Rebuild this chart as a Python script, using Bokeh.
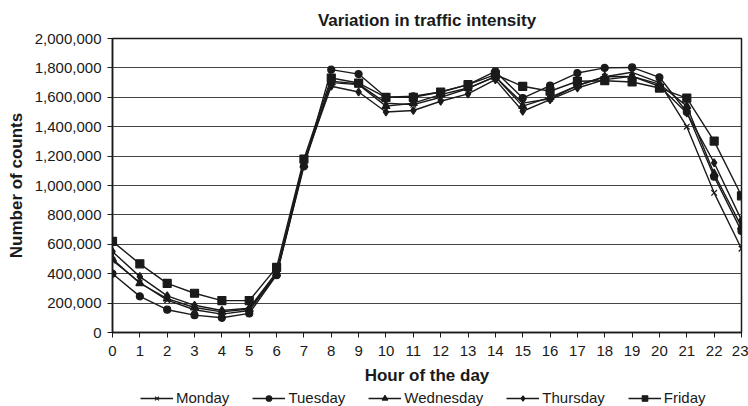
from bokeh.plotting import figure
from bokeh.layouts import column
from bokeh.models import (ColumnDataSource, Legend, LegendItem, NumeralTickFormatter,
                          FixedTicker, Range1d)
from bokeh.embed import file_html
from bokeh.resources import INLINE

# Hourly traffic counts per weekday
hours = list(range(24))
monday = [490000, 340000, 220000, 155000, 125000, 150000, 395000, 1150000,
          1710000, 1690000, 1560000, 1550000, 1600000, 1660000, 1740000, 1560000,
          1590000, 1680000, 1740000, 1770000, 1700000, 1400000, 950000, 570000]
tuesday = [400000, 246000, 155000, 118000, 100000, 130000, 390000, 1130000,
           1788000, 1758000, 1600000, 1607000, 1636000, 1686000, 1776000, 1595000,
           1680000, 1765000, 1800000, 1803000, 1736000, 1500000, 1060000, 690000]
wednesday = [500000, 335000, 230000, 170000, 140000, 160000, 400000, 1140000,
             1700000, 1686000, 1540000, 1560000, 1618000, 1663000, 1740000, 1540000,
             1600000, 1680000, 1740000, 1742000, 1690000, 1540000, 1080000, 720000]
thursday = [550000, 380000, 249000, 185000, 150000, 165000, 410000, 1160000,
            1675000, 1636000, 1500000, 1510000, 1573000, 1623000, 1720000, 1505000,
            1584000, 1663000, 1720000, 1742000, 1675000, 1494000, 1155000, 764000]
friday = [620000, 467000, 334000, 267000, 217000, 217000, 443000, 1180000,
          1731000, 1697000, 1600000, 1600000, 1636000, 1686000, 1754000, 1675000,
          1641000, 1709000, 1713000, 1704000, 1663000, 1595000, 1302000, 930000]

days = ["Monday", "Tuesday", "Wednesday", "Thursday", "Friday"]
series = [monday, tuesday, wednesday, thursday, friday]
markers = ["x", "circle", "triangle", "diamond", "square"]
sizes = [8, 7, 8, 8, 8]
key_sizes = [6, 6, 7, 7, 8]

FONT = "Liberation Sans"
INK = "#1a1a1a"

p = figure(width=748, height=388, output_backend="svg", toolbar_location=None,
           x_range=Range1d(0, 23), y_range=Range1d(0, 2000000),
           min_border_left=112, min_border_right=7, min_border_top=37,
           min_border_bottom=56)

p.title.text = "Variation in traffic intensity"
p.title.align = "center"
p.title.text_font = FONT
p.title.text_font_size = "17px"
p.title.text_font_style = "bold"
p.title.text_color = INK
p.title.standoff = 17

p.outline_line_color = INK
p.outline_line_width = 1.5

p.xgrid.grid_line_color = None
p.ygrid.grid_line_color = "#444444"
p.ygrid.grid_line_width = 1

p.xaxis.ticker = FixedTicker(ticks=hours)
p.yaxis.ticker = FixedTicker(ticks=list(range(0, 2000001, 200000)))
p.yaxis.formatter = NumeralTickFormatter(format="0,0")

for ax in (p.xaxis[0], p.yaxis[0]):
    ax.axis_line_color = INK
    ax.axis_line_width = 1.5
    ax.major_tick_line_color = INK
    ax.major_tick_out = 5
    ax.major_tick_in = 0
    ax.minor_tick_line_color = None
    ax.major_label_text_font = FONT
    ax.major_label_text_font_size = "15px"
    ax.major_label_text_color = INK
    ax.axis_label_text_font = FONT
    ax.axis_label_text_font_size = "17px"
    ax.axis_label_text_font_style = "bold"
    ax.axis_label_text_color = INK

p.xaxis.axis_label = "Hour of the day"
p.yaxis.axis_label = "Number of counts"
p.xaxis.major_label_standoff = 8
p.xaxis.axis_label_standoff = 7
p.yaxis.major_label_standoff = 6
p.yaxis.axis_label_standoff = 6

# A strip under the chart holds the key; its ranges keep the data out of view
key = figure(width=748, height=18, output_backend="svg", toolbar_location=None,
             x_range=Range1d(-100, -99), y_range=Range1d(-100, -99),
             x_axis_type=None, y_axis_type=None, min_border=0)
key.outline_line_color = None
key.grid.grid_line_color = None

items = []
for day, vals, mk, sz, ksz in zip(days, series, markers, sizes, key_sizes):
    src = ColumnDataSource(dict(hour=hours, count=vals))
    p.line("hour", "count", source=src, line_color=INK, line_width=1.4)
    p.scatter("hour", "count", source=src, marker=mk, size=sz,
              line_color=INK, fill_color=INK, line_width=1.2)
    ln = key.line("hour", "count", source=src, line_color=INK, line_width=1.4)
    sc = key.scatter("hour", "count", source=src, marker=mk, size=ksz,
                     line_color=INK, fill_color=INK, line_width=1.1)
    items.append(LegendItem(label=day, renderers=[ln, sc]))

legend = Legend(items=items, orientation="horizontal", location=(28, 0),
                border_line_color=None, background_fill_alpha=0,
                label_text_font=FONT, label_text_font_size="15px",
                label_text_color=INK, glyph_width=33, glyph_height=14,
                label_height=14, spacing=23, padding=0, margin=0,
                label_standoff=3)
key.add_layout(legend, "center")

layout = column(p, key, spacing=0)
open("out.html", "w").write(file_html(layout, INLINE))
